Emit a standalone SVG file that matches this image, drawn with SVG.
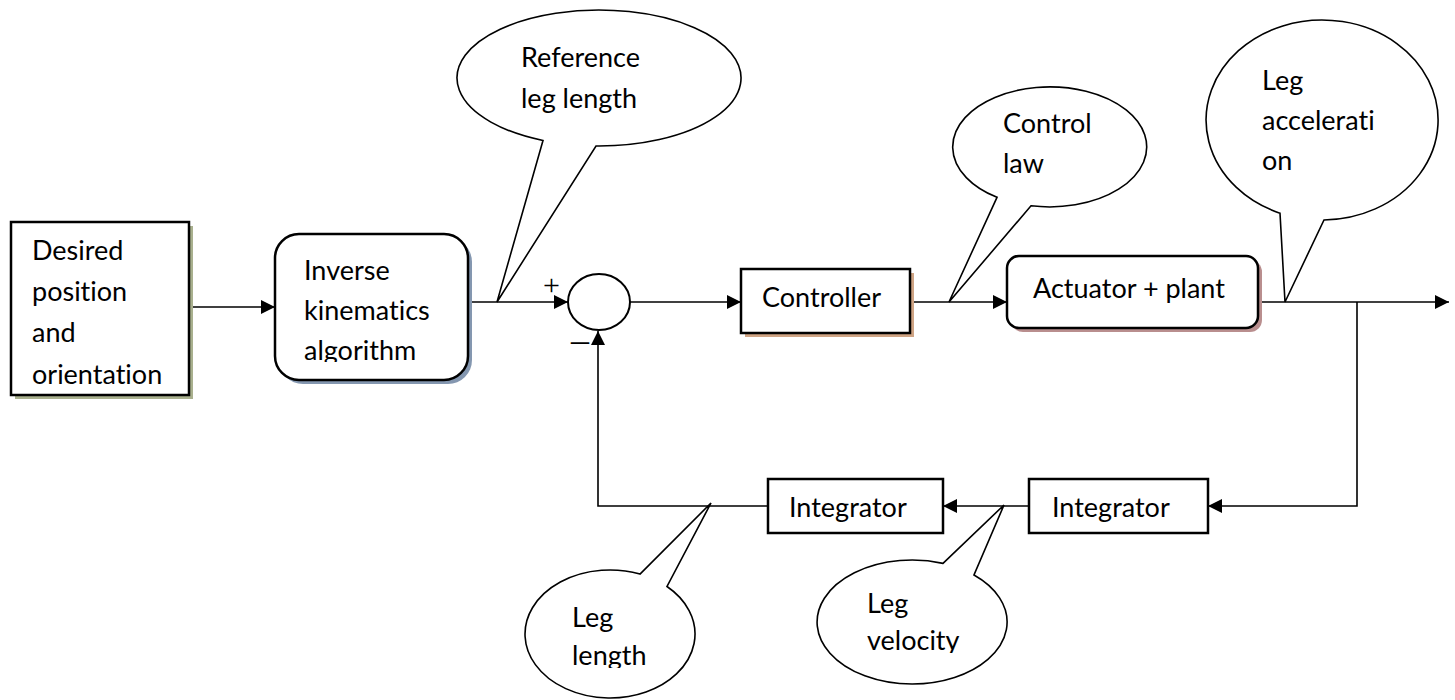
<svg xmlns="http://www.w3.org/2000/svg" width="1455" height="700" viewBox="0 0 1455 700">
<style>
.box{fill:#fff;stroke:#000;stroke-width:2.5}
.t{font-family:Lato,"Liberation Sans",sans-serif;font-size:27px;fill:#000;font-variant-ligatures:none;font-feature-settings:"liga" 0,"clig" 0,"dlig" 0,"calt" 0}
.c{fill:none;stroke:#000;stroke-width:1.6}
.call{fill:#fff;stroke:#000;stroke-width:1.6;stroke-linejoin:miter}
.sym{font-family:"Liberation Serif",serif;fill:#000}
</style>
<defs>
<marker id="ah" markerUnits="userSpaceOnUse" markerWidth="14" markerHeight="14" refX="14" refY="7" orient="auto">
<path d="M0,0 L14,7 L0,14 Z" fill="#000"/>
</marker>
<clipPath id="clipIK"><rect x="280" y="236" width="185" height="126"/></clipPath>
<clipPath id="clipLL"><rect x="530" y="580" width="160" height="88"/></clipPath>
<clipPath id="clipLV"><rect x="820" y="570" width="180" height="83"/></clipPath>
</defs>
<rect width="1455" height="700" fill="#fff"/>

<g id="connectors">
<line class="c" x1="189" y1="307" x2="275" y2="307" marker-end="url(#ah)"/>
<line class="c" x1="468" y1="302" x2="568" y2="302" marker-end="url(#ah)"/>
<line class="c" x1="630" y1="302" x2="741" y2="302" marker-end="url(#ah)"/>
<line class="c" x1="910" y1="302" x2="1007" y2="302" marker-end="url(#ah)"/>
<line class="c" x1="1258" y1="302" x2="1449" y2="302" marker-end="url(#ah)"/>
<polyline class="c" points="1357,302 1357,506 1208,506" marker-end="url(#ah)"/>
<line class="c" x1="1029" y1="506" x2="943" y2="506" marker-end="url(#ah)"/>
<polyline class="c" points="768,506 598,506 598,331" marker-end="url(#ah)"/>
</g>

<g id="desired">
<rect x="15" y="226" width="178" height="173" fill="#a9b08e"/>
<rect class="box" x="11" y="222" width="178" height="173"/>
<text class="t" x="32" y="260">Desired</text>
<text class="t" x="32" y="301">position</text>
<text class="t" x="32" y="342">and</text>
<text class="t" x="32" y="384">orientation</text>
</g>

<g id="inverse">
<rect x="279" y="238" width="193" height="146" rx="24" fill="#8497b0"/>
<rect class="box" x="275" y="234" width="193" height="146" rx="24"/>
<g clip-path="url(#clipIK)">
<text class="t" x="304" y="280">Inverse</text>
<text class="t" x="304" y="320">kinematics</text>
<text class="t" x="304" y="360">algorithm</text>
</g>
</g>

<g id="sum">
<ellipse cx="599" cy="302" rx="31" ry="28" fill="#fff" stroke="#000" stroke-width="2"/>
<text class="sym" x="543" y="295" font-size="30">+</text>
<text class="sym" x="571" y="352" font-size="36">–</text>
</g>

<g id="controller">
<rect x="745" y="273" width="169" height="64" fill="#cfa484"/>
<rect class="box" x="741" y="269" width="169" height="64"/>
<text class="t" x="762" y="307">Controller</text>
</g>

<g id="actuator">
<rect x="1011" y="260" width="251" height="72" rx="12" fill="#b98e8e"/>
<rect class="box" x="1007" y="256" width="251" height="72" rx="12"/>
<text class="t" x="1033" y="298">Actuator + plant</text>
</g>

<g id="integrator1">
<rect class="box" x="768" y="479" width="175" height="54"/>
<text class="t" x="789" y="517">Integrator</text>
</g>

<g id="integrator2">
<rect class="box" x="1029" y="479" width="179" height="54"/>
<text class="t" x="1052" y="517">Integrator</text>
</g>

<g id="callout-ref">
<path class="call" d="M543,140.5 L497,302 L596,146 A142,68 0 1 0 543,140.5 Z"/>
<text class="t" x="521" y="67">Reference</text>
<text class="t" x="521" y="108">leg length</text>
</g>

<g id="callout-control">
<path class="call" d="M997,197.3 L949,302 L1031,205.8 A97,60 0 1 0 997,197.3 Z"/>
<text class="t" x="1003" y="133">Control</text>
<text class="t" x="1003" y="173">law</text>
</g>

<g id="callout-acc">
<path class="call" d="M1280,213.2 L1285,302 L1324,220 A116,100 0 1 0 1280,213.2 Z"/>
<text class="t" x="1262" y="90">Leg</text>
<text class="t" x="1262" y="130">accelerati</text>
<text class="t" x="1262" y="170">on</text>
</g>

<g id="callout-leglength">
<path class="call" d="M640,574.1 L711,503 L667,586.5 A85,64 0 1 1 640,574.1 Z"/>
<g clip-path="url(#clipLL)">
<text class="t" x="572" y="627">Leg</text>
<text class="t" x="572" y="665">length</text>
</g>
</g>

<g id="callout-velocity">
<path class="call" d="M943,563.4 L1004,505 L974,575 A95,62 0 1 1 943,563.4 Z"/>
<g clip-path="url(#clipLV)">
<text class="t" x="867" y="613">Leg</text>
<text class="t" x="867" y="650">velocity</text>
</g>
</g>
</svg>
